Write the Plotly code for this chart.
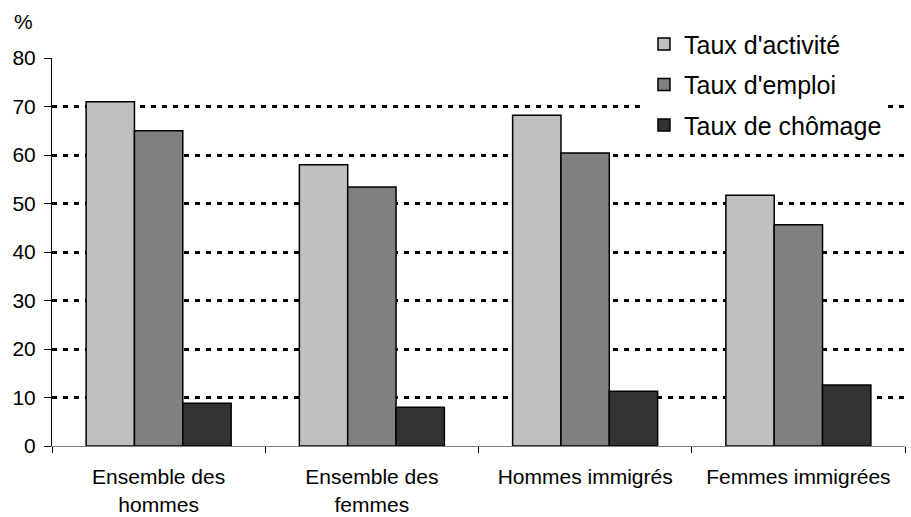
import plotly.graph_objects as go

categories = ["Ensemble des<br>hommes", "Ensemble des<br>femmes", "Hommes immigrés", "Femmes immigrées"]
series_names = ["Taux d'activité", "Taux d'emploi", "Taux de chômage"]
activite = [71.0, 58.0, 68.2, 51.7]
emploi = [65.0, 53.4, 60.4, 45.6]
chomage = [8.8, 8.0, 11.3, 12.6]
colors = ["#C0C0C0", "#808080", "#333333"]
y_ticks = [0, 10, 20, 30, 40, 50, 60, 70, 80]

fig = go.Figure()
for i, (name, vals) in enumerate(zip(series_names, [activite, emploi, chomage])):
    fig.add_trace(go.Bar(
        x=categories, y=vals, name=name, legendgroup=name,
        marker=dict(color=colors[i], line=dict(color="black", width=1.5)),
    ))

fig.update_layout(
    width=911, height=517,
    margin=dict(l=52, r=6, t=58, b=71, autoexpand=False),
    paper_bgcolor="white", plot_bgcolor="white",
    barmode="group", bargap=0.32, bargroupgap=0,
    font=dict(family="Liberation Sans, Arial, sans-serif", size=21, color="black"),
    showlegend=True,
    legend=dict(
        x=0.694, y=1.095, xanchor="left", yanchor="top",
        bgcolor="white", font=dict(size=25),
        traceorder="grouped", tracegroupgap=5,
    ),
    annotations=[dict(text="%", x=-0.047, y=1.095, xref="paper", yref="paper",
                      xanchor="left", yanchor="middle", showarrow=False,
                      font=dict(size=21))],
)
fig.update_xaxes(
    showline=True, linecolor="#808080", linewidth=1,
    ticks="outside", tickson="boundaries", ticklen=6, tickcolor="black",
    showgrid=False, tickfont=dict(size=21), ticklabelstandoff=12,
)
fig.update_yaxes(
    range=[0, 80], tickvals=y_ticks,
    showline=True, linecolor="black", linewidth=1,
    ticks="outside", ticklen=7, tickcolor="black",
    showgrid=True, gridcolor="black", gridwidth=3, griddash="5px,6px",
    zeroline=True, zerolinecolor="#808080", zerolinewidth=1,
    tickfont=dict(size=21), ticklabelstandoff=4,
)
fig.write_html("out.html", config={"displayModeBar": False},
               post_script="document.body.style.margin='0';")
